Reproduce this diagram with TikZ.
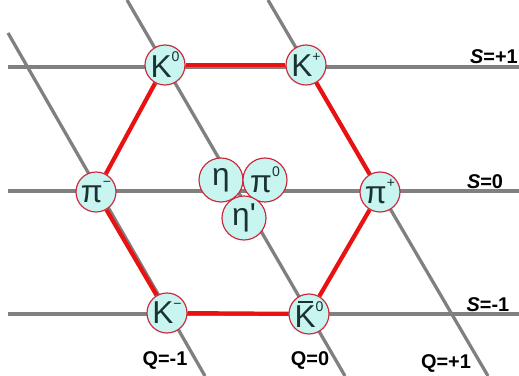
\documentclass[tikz,border=0pt]{standalone}
\usepackage{fontspec}
\setmainfont{Liberation Sans}
\usepackage{xcolor}
\usetikzlibrary{backgrounds}

\definecolor{latgray}{RGB}{128,128,128}
\definecolor{hexred}{RGB}{232,18,18}
\definecolor{ballfill}{RGB}{200,245,240}
\definecolor{balledge}{RGB}{205,40,60}
\definecolor{ink}{RGB}{25,50,50}

% small charge label, raised
\newcommand{\chg}[1]{\raisebox{0.5em}{\fontsize{12}{12}\selectfont #1}}
% K with a bar
\newcommand{\Kbar}{\makebox[0pt][l]{\hspace{0.12em}\raisebox{0.78em}{\rule{0.45em}{0.07em}}}K}

\begin{document}
\begin{tikzpicture}[x=0.03cm, y=-0.03cm,
  meson/.style={circle, draw=balledge, line width=1pt, fill=ballfill,
    minimum size=1.2cm, inner sep=0pt, text=ink,
    font=\fontsize{27}{27}\selectfont},
  bigmeson/.style={meson, minimum size=1.32cm},
  latline/.style={draw=latgray, line width=2.8pt},
  hexedge/.style={draw=hexred, line width=3.6pt},
  lbl/.style={font=\fontsize{17}{17}\selectfont\bfseries, inner sep=0pt}
]
  \useasboundingbox (0,0) rectangle (519,376);

  % octet
  \node[meson] (K0) at (165,65) {K\chg{0}};
  \node[meson] (Kp) at (306,65) {K\chg{+}};
  \node[meson] (pim) at (96,192) {π\chg{−}};
  \node[meson] (pip) at (380,192) {π\chg{+}};
  \node[meson] (Km) at (167,313) {K\chg{−}};
  \node[meson] (K0bar) at (309,314) {\Kbar\chg{0}};

  % centre
  \node[bigmeson] (eta) at (221,180) {η};
  \node[bigmeson] (pi0) at (265,180) {π\chg{0}};
  \node[bigmeson] (etap) at (244,218) {η\textquotesingle};

  % hexagon
  \draw[hexedge] (K0) -- (Kp);
  \draw[hexedge] (Kp) -- (pip);
  \draw[hexedge] (pip) -- (K0bar);
  \draw[hexedge] (K0bar) -- (Km);
  \draw[hexedge] (Km) -- (pim);
  \draw[hexedge] (pim) -- (K0);

  % strangeness and charge lines
  \coordinate (s1w) at (8,67);   \coordinate (s1e) at (519,67);
  \coordinate (s0w) at (8,191);  \coordinate (s0e) at (519,191);
  \coordinate (smw) at (8,314);  \coordinate (sme) at (519,314);
  \coordinate (qmn) at (8,33);   \coordinate (qms) at (205,376);
  \coordinate (q0n) at (127,0);  \coordinate (q0s) at (345,376);
  \coordinate (qpn) at (268,0);  \coordinate (qps) at (488,376);
  \begin{scope}[on background layer]
    \draw[latline] (s1w) -- (s1e);
    \draw[latline] (s0w) -- (s0e);
    \draw[latline] (smw) -- (sme);
    \draw[latline] (qmn) -- (qms);
    \draw[latline] (q0n) -- (q0s);
    \draw[latline] (qpn) -- (qps);
  \end{scope}

  \node[lbl] (sp1) at (494,57) {\textit{S}=+1};
  \node[lbl] (sz) at (485,182) {\textit{S}=0};
  \node[lbl] (sm1) at (488,305) {\textit{S}=-1};
  \node[lbl] (qm1) at (165,361) {Q=-1};
  \node[lbl] (qz) at (310,361) {Q=0};
  \node[lbl] (qp1) at (446,364) {Q=+1};
\end{tikzpicture}
\end{document}
